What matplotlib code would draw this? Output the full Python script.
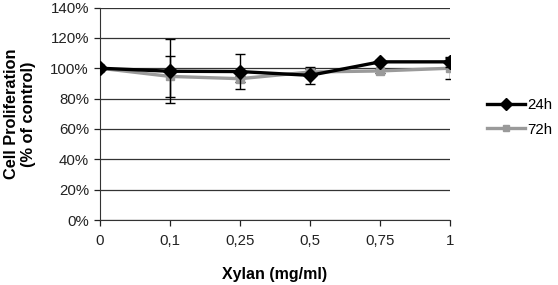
import matplotlib
matplotlib.use("Agg")
import matplotlib.pyplot as plt
from matplotlib.ticker import FuncFormatter
from matplotlib.lines import Line2D

categories = ["0", "0,1", "0,25", "0,5", "0,75", "1"]
h24 = [100, 98, 97.8, 95.3, 104.2, 104.2]
h24_err = [0, 21, 11.3, 5.5, 1.0, 3.5]
h72 = [100, 94.6, 93.1, 97.5, 98.2, 100.0]
h72_err = [0, 13.5, 2.0, 2.0, 1.5, 7.0]
yticks = [0, 20, 40, 60, 80, 100, 120, 140]

plt.rcParams['font.family'] = ['Liberation Sans', 'DejaVu Sans']

fig = plt.figure(figsize=(5.58, 2.85), dpi=100)
ax = fig.add_axes([100/558, 1-220/285, 350/558, (220-7.5)/285])

x = list(range(len(categories)))
ax.errorbar(x, h72, yerr=h72_err, color='#9a9a9a', ecolor='black', elinewidth=1.0,
            capsize=3.5, capthick=1.0, lw=2.4, marker='s', ms=6, mfc='#9a9a9a',
            mec='#9a9a9a', zorder=3)
ax.errorbar(x, h24, yerr=h24_err, color='black', ecolor='black', elinewidth=1.0,
            capsize=3.5, capthick=1.0, lw=2.4, marker='D', ms=7.5, zorder=4)

ax.set_xlim(0, len(categories) - 1)
ax.set_ylim(0, 140)
ax.set_yticks(yticks)
ax.yaxis.set_major_formatter(FuncFormatter(lambda v, p: f"{int(v)}%"))
ax.set_xticks(x)
ax.set_xticklabels(categories)
ax.grid(axis='y', color='#333333', lw=0.9)
ax.set_axisbelow(True)
for s in ['top', 'right']:
    ax.spines[s].set_visible(False)
ax.spines['left'].set_color('#333333')
ax.spines['bottom'].set_color('#333333')
ax.tick_params(axis='both', labelsize=10.8, colors='#222222', length=4, width=0.9, pad=6)
ax.tick_params(axis='y', pad=4)

ax.set_xlabel("Xylan (mg/ml)", fontsize=11.5, fontweight='bold', labelpad=14)
fig.text(20/558, 1-114/285, "Cell Proliferation\n(% of control)", rotation=90,
         ha='center', va='center', fontsize=11.8, fontweight='bold', multialignment='center',
         linespacing=1.2)

handles = [Line2D([], [], color='black', lw=2.4, marker='D', ms=6),
           Line2D([], [], color='#9a9a9a', lw=2.4, marker='s', ms=5)]
leg = fig.legend(handles, ["24h", "72h"],
                 loc='center left', bbox_to_anchor=(487/558, 1-117.5/285), frameon=False,
                 borderpad=0, borderaxespad=0,
                 fontsize=10.8, handlelength=2.5, handletextpad=0.15, labelspacing=0.7)

fig.savefig("out.png", dpi=100)
